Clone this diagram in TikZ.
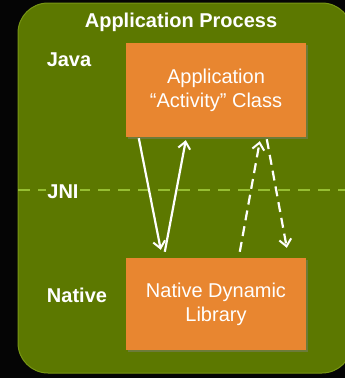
\documentclass[tikz,border=0pt]{standalone}
\usepackage{fontspec}
\setmainfont{Liberation Sans}
\usetikzlibrary{arrows.meta,shadows}
\definecolor{procgreen}{RGB}{92,120,0}
\definecolor{procedge}{RGB}{120,150,20}
\definecolor{jnigreen}{RGB}{150,190,50}
\definecolor{boxorange}{RGB}{232,134,48}
\tikzset{
  classbox/.style={fill=boxorange, minimum width=180pt, minimum height=93pt,
    align=center, text=white, font=\fontsize{20}{24}\selectfont,
    drop shadow={shadow xshift=2pt, shadow yshift=-2pt, opacity=0.45}},
  layerlabel/.style={text=white, font=\fontsize{20}{23}\selectfont\bfseries},
  callarrow/.style={white, line width=2.2pt,
    -{Straight Barb[length=7pt,width=12pt,line width=2pt]}},
  backcall/.style={callarrow, dash pattern=on 10pt off 6pt}
}
\begin{document}
\begin{tikzpicture}[x=1pt,y=-1pt]
\useasboundingbox (0,0) rectangle (345,378);
\fill[black!98] (0,0) rectangle (345,378);
% process area
\draw[procedge, fill=procgreen, line width=1pt, rounded corners=30pt] (18,3) rectangle (352,373);
\draw[jnigreen, line width=2pt, dash pattern=on 12pt off 8pt] (18,190) -- (345,190);
% labels
\node[layerlabel] (process) at (181,22) {Application Process};
\node[layerlabel] (java) at (69,60) {Java};
\node[layerlabel, fill=procgreen, inner xsep=1pt, inner ysep=0pt] (jni) at (63,192) {JNI};
\node[layerlabel] (nativelbl) at (77,295) {Native};
% boxes
\node[classbox, minimum height=94pt] (activity) at (216,90) {Application\\``Activity'' Class};
\node[classbox, minimum height=92pt] (native) at (216,304) {Native Dynamic\\Library};
% calls
\draw[callarrow] ([xshift=13pt,yshift=-1pt]activity.south west) -- ([xshift=35pt,yshift=8pt]native.north west);
\draw[callarrow] ([xshift=39pt,yshift=6pt]native.north west) -- ([xshift=60pt,yshift=-3pt]activity.south west);
\draw[backcall] ([xshift=114pt,yshift=6pt]native.north west) -- ([xshift=134pt,yshift=-4pt]activity.south west);
\draw[backcall] ([xshift=141pt,yshift=-2pt]activity.south west) -- ([xshift=161pt,yshift=10pt]native.north west);
\end{tikzpicture}
\end{document}
